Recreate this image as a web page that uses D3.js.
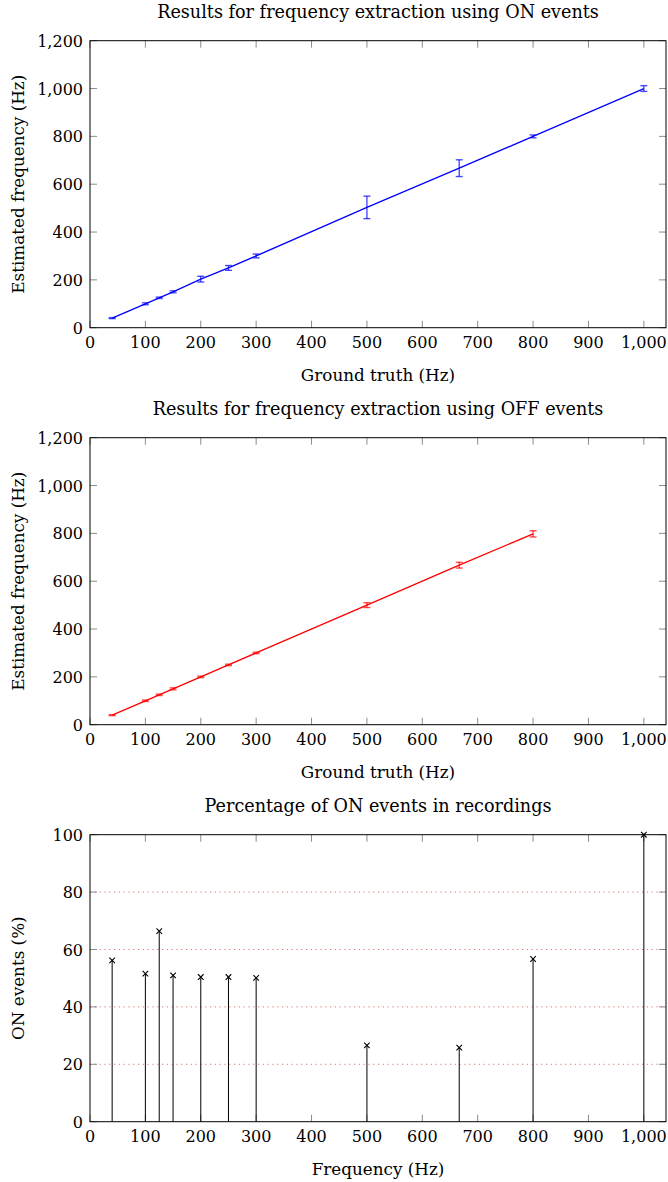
<!DOCTYPE html>
<html>
<head>
<meta charset="utf-8">
<script src="https://cdn.jsdelivr.net/npm/d3@7"></script>
<style>
  html, body { margin: 0; padding: 0; background: #fff; }
  svg text { font-family: "DejaVu Serif", serif; fill: #000; }
</style>
</head>
<body>
<svg id="chart" width="668" height="1182"></svg>
<script>
// ---- Data ----
const frequencies = [40, 100, 125, 150, 200, 250, 300, 500, 666.67, 800, 1000];

const onEstimated = [40, 100, 125, 150, 203, 250, 300, 503, 667, 800, 1000];
const onError     = [2, 4, 3, 4, 12, 10, 8, 47, 35, 6, 12];

const offFrequencies = [40, 100, 125, 150, 200, 250, 300, 500, 666.67, 800];
const offEstimated   = [40, 100, 125, 150, 200, 250, 300, 500, 667, 798];
const offError       = [2, 3, 3, 4, 3, 3, 3, 10, 12, 13];

const onPercentage = [56.2, 51.6, 66.4, 51.0, 50.4, 50.4, 50.1, 26.6, 25.8, 56.7, 100];

const xTicks = [0, 100, 200, 300, 400, 500, 600, 700, 800, 900, 1000];
const freqTicks = [0, 200, 400, 600, 800, 1000, 1200];
const pctTicks = [0, 20, 40, 60, 80, 100];
const pctGrid = [20, 40, 60, 80];

const titles = [
  "Results for frequency extraction using ON events",
  "Results for frequency extraction using OFF events",
  "Percentage of ON events in recordings"
];
const xLabels = ["Ground truth (Hz)", "Ground truth (Hz)", "Frequency (Hz)"];
const yLabels = ["Estimated frequency (Hz)", "Estimated frequency (Hz)", "ON events (%)"];

// ---- Layout ----
const svg = d3.select("#chart");
const left = 90, right = 666;
const plotH = 287;
const tops = [40.7, 437.7, 834.7];
const tickFont = 16, labelFont = 16.8, titleFont = 17.6;
const fmt = d3.format(",");

const x = d3.scaleLinear().domain([0, 1040]).range([left, right]);

function frame(g, y, yTickVals, top) {
  const bottom = top + plotH;
  const tickLen = 7;
  const tg = g.append("g").attr("stroke", "#8c8c8c").attr("stroke-width", 1);
  xTicks.forEach(t => {
    tg.append("line").attr("x1", x(t)).attr("x2", x(t)).attr("y1", bottom).attr("y2", bottom - tickLen);
    tg.append("line").attr("x1", x(t)).attr("x2", x(t)).attr("y1", top).attr("y2", top + tickLen);
  });
  yTickVals.forEach(t => {
    tg.append("line").attr("x1", left).attr("x2", left + tickLen).attr("y1", y(t)).attr("y2", y(t));
    tg.append("line").attr("x1", right).attr("x2", right - tickLen).attr("y1", y(t)).attr("y2", y(t));
  });
  g.append("g").selectAll("text").data(xTicks).join("text")
    .attr("x", d => x(d)).attr("y", bottom + 20)
    .attr("text-anchor", "middle").attr("font-size", tickFont)
    .text(d => fmt(d));
  g.append("g").selectAll("text").data(yTickVals).join("text")
    .attr("x", left - 7).attr("y", d => y(d) + 6)
    .attr("text-anchor", "end").attr("font-size", tickFont)
    .text(d => fmt(d));
}

function border(g, top) {
  g.append("rect").attr("x", left).attr("y", top).attr("width", right - left).attr("height", plotH)
    .attr("fill", "none").attr("stroke", "#000").attr("stroke-width", 1);
}

function labels(g, i, top) {
  g.append("text").attr("x", (left + right) / 2).attr("y", top - 23)
    .attr("text-anchor", "middle").attr("font-size", titleFont).text(titles[i]);
  g.append("text").attr("x", (left + right) / 2).attr("y", top + plotH + 53)
    .attr("text-anchor", "middle").attr("font-size", labelFont).text(xLabels[i]);
  const cy = top + plotH / 2;
  g.append("text").attr("transform", `translate(24,${cy}) rotate(-90)`)
    .attr("text-anchor", "middle").attr("font-size", labelFont).text(yLabels[i]);
}

function errorPanel(i, xs, ys, errs, color) {
  const top = tops[i];
  const g = svg.append("g");
  const y = d3.scaleLinear().domain([0, 1200]).range([top + plotH, top]);
  frame(g, y, freqTicks, top);
  const pts = xs.map((v, k) => ({ x: v, y: ys[k], e: errs[k] }));
  g.append("path").datum(pts)
    .attr("fill", "none").attr("stroke", color).attr("stroke-width", 1.3)
    .attr("d", d3.line().x(d => x(d.x)).y(d => y(d.y)));
  const eb = g.append("g").attr("stroke", color).attr("stroke-width", 1.4).attr("stroke-opacity", 0.7);
  pts.forEach(d => {
    const cx = x(d.x);
    eb.append("line").attr("x1", cx).attr("x2", cx).attr("y1", y(d.y - d.e)).attr("y2", y(d.y + d.e));
    eb.append("line").attr("x1", cx - 3.5).attr("x2", cx + 3.5).attr("y1", y(d.y - d.e)).attr("y2", y(d.y - d.e));
    eb.append("line").attr("x1", cx - 3.5).attr("x2", cx + 3.5).attr("y1", y(d.y + d.e)).attr("y2", y(d.y + d.e));
  });
  border(g, top);
  labels(g, i, top);
}

function combPanel(i) {
  const top = tops[i];
  const g = svg.append("g");
  const y = d3.scaleLinear().domain([0, 100]).range([top + plotH, top]);
  g.append("g").selectAll("line").data(pctGrid).join("line")
    .attr("x1", left).attr("x2", right).attr("y1", d => y(d)).attr("y2", d => y(d))
    .attr("stroke", "#e04545").attr("stroke-opacity", 0.75).attr("stroke-width", 1)
    .attr("stroke-dasharray", "1.2,3.6");
  frame(g, y, pctTicks, top);
  const pts = frequencies.map((f, k) => ({ x: f, y: onPercentage[k] }));
  g.append("g").selectAll("line").data(pts).join("line")
    .attr("x1", d => x(d.x)).attr("x2", d => x(d.x))
    .attr("y1", y(0)).attr("y2", d => y(d.y))
    .attr("stroke", "#000").attr("stroke-width", 1);
  const m = 2.8;
  const mk = g.append("g").attr("stroke", "#000").attr("stroke-width", 1.1);
  pts.forEach(d => {
    const cx = x(d.x), cy = y(d.y);
    mk.append("line").attr("x1", cx - m).attr("x2", cx + m).attr("y1", cy - m).attr("y2", cy + m);
    mk.append("line").attr("x1", cx - m).attr("x2", cx + m).attr("y1", cy + m).attr("y2", cy - m);
  });
  border(g, top);
  labels(g, i, top);
}

errorPanel(0, frequencies, onEstimated, onError, "#0000ff");
errorPanel(1, offFrequencies, offEstimated, offError, "#ff0000");
combPanel(2);
</script>
</body>
</html>
